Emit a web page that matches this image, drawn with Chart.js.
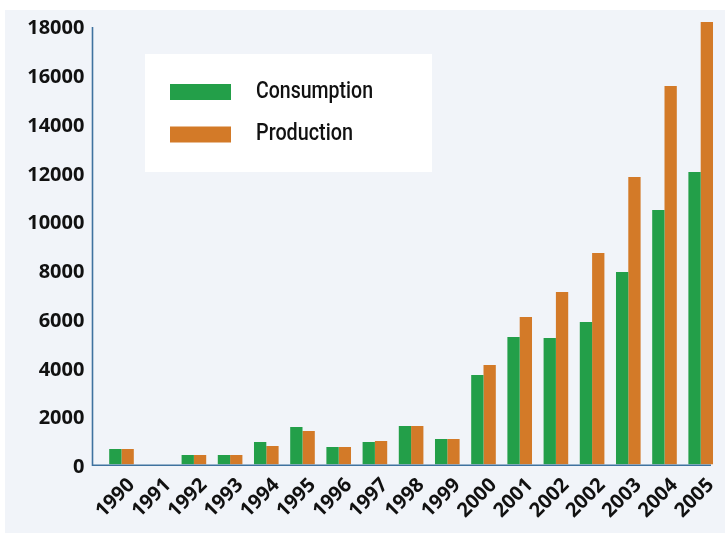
<!DOCTYPE html>
<html>
<head>
<meta charset="utf-8">
<script src="https://cdn.jsdelivr.net/npm/chart.js@4"></script>
<style>
  html, body { margin: 0; padding: 0; background: #ffffff; }
  #wrap { width: 725px; height: 533px; position: relative; }
</style>
</head>
<body>
<div id="wrap"><canvas id="c" width="725" height="533"></canvas></div>
<script>
// Years along the bottom axis (the 2002 label appears twice in the series)
const categories = ['1990', '1991', '1992', '1993', '1994', '1995', '1996', '1997', '1998', '1999',
                    '2000', '2001', '2002', '2002', '2003', '2004', '2005'];
const consumption = [640, 0, 390, 390, 920, 1540, 720, 920, 1580, 1045,
                     3670, 5230, 5190, 5850, 7900, 10440, 12000];
const production  = [640, 0, 390, 390, 760, 1375, 720, 965, 1580, 1045,
                     4080, 6050, 7080, 8680, 11800, 15530, 18150];
const yTicks = [0, 2000, 4000, 6000, 8000, 10000, 12000, 14000, 16000, 18000];

const GREEN = '#239f49';
const ORANGE = '#d37a28';
const AXIS = '#3f729f';
const PANEL = '#f1f4f9';

// Light panel behind the whole chart
const panelPlugin = {
  id: 'panel',
  beforeDraw(chart) {
    const ctx = chart.ctx;
    ctx.save();
    ctx.fillStyle = PANEL;
    ctx.fillRect(5, 10, 720, 523);
    ctx.restore();
  }
};

// Axis lines: left axis and baseline
const axisPlugin = {
  id: 'axisLines',
  afterDatasetsDraw(chart) {
    const ctx = chart.ctx;
    const y0 = chart.scales.y.getPixelForValue(0);
    ctx.save();
    ctx.strokeStyle = AXIS;
    ctx.lineWidth = 1.6;
    ctx.beginPath();
    ctx.moveTo(92.5, 27);
    ctx.lineTo(92.5, y0 + 0.8);
    ctx.lineTo(711, y0 + 0.8);
    ctx.stroke();
    ctx.restore();
  }
};

// Boxed legend inside the plot area
const legendBoxPlugin = {
  id: 'legendBox',
  afterDraw(chart) {
    const ctx = chart.ctx;
    ctx.save();
    ctx.fillStyle = '#ffffff';
    ctx.fillRect(145, 54, 287, 118);
    const rows = [{ y: 84, w: 117 }, { y: 126.5, w: 97 }];
    chart.data.datasets.forEach((ds, i) => {
      const r = rows[i];
      ctx.fillStyle = ds.backgroundColor;
      ctx.fillRect(170, r.y, 61, 16);
      ctx.font = '500 23px "Roboto", sans-serif';
      ctx.fillStyle = '#111111';
      ctx.textBaseline = 'middle';
      ctx.textAlign = 'left';
      const w = ctx.measureText(ds.label).width;
      const sx = r.w / w;
      ctx.save();
      ctx.translate(256, r.y + 8);
      ctx.scale(sx, 1);
      ctx.fillText(ds.label, 0, 0);
      ctx.restore();
    });
    ctx.restore();
  }
};

new Chart(document.getElementById('c'), {
  type: 'bar',
  data: {
    labels: categories,
    datasets: [
      { label: 'Consumption', data: consumption, backgroundColor: GREEN, borderWidth: 0 },
      { label: 'Production', data: production, backgroundColor: ORANGE, borderWidth: 0 }
    ]
  },
  options: {
    responsive: false,
    animation: false,
    layout: { padding: { top: 16, right: 6.2, bottom: 0, left: 0 } },
    datasets: { bar: { categoryPercentage: 0.68, barPercentage: 1.0 } },
    plugins: { legend: { display: false }, tooltip: { enabled: false } },
    scales: {
      x: {
        grid: { display: false, drawTicks: false },
        border: { display: false },
        ticks: {
          autoSkip: false,
          maxRotation: 45,
          minRotation: 45,
          padding: 9,
          labelOffset: 10,
          color: '#111111',
          font: { family: '"Open Sans", sans-serif', size: 20, weight: 'bold' }
        },
        afterFit(scale) {
          scale.height = 68.5;
          scale.paddingLeft = 0;
          scale.paddingRight = 0;
        }
      },
      y: {
        min: 0,
        max: 18400,
        grid: { display: false, drawTicks: false },
        border: { display: false },
        afterBuildTicks(scale) { scale.ticks = yTicks.map(v => ({ value: v })); },
        ticks: {
          padding: 19,
          labelOffset: 3,
          color: '#111111',
          callback: (v) => String(v),
          font: { family: '"Open Sans", sans-serif', size: 20, weight: 'bold' }
        },
        afterFit(scale) {
          scale.width = 103.4;
          scale.paddingTop = 0;
          scale.paddingBottom = 0;
        }
      }
    }
  },
  plugins: [panelPlugin, axisPlugin, legendBoxPlugin]
});
</script>
</body>
</html>
